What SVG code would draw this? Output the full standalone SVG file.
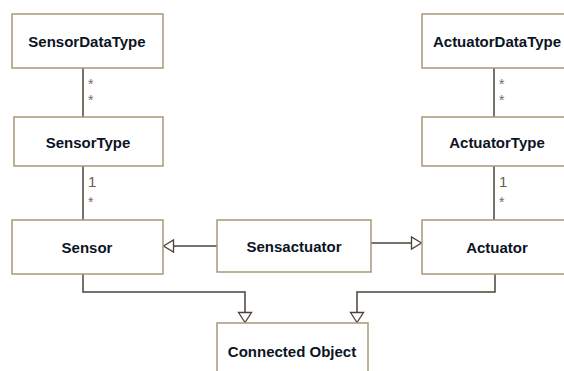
<svg xmlns="http://www.w3.org/2000/svg" width="564" height="371" viewBox="0 0 564 371">
<style>
.box{fill:#fff;stroke:#a89878;stroke-width:1.5}
.lbl{font-family:"Liberation Sans",Arial,sans-serif;font-weight:bold;font-size:15px;fill:#0c1424;text-anchor:middle;dominant-baseline:central}
.mult{font-family:"Liberation Sans",Arial,sans-serif;font-size:14px;fill:#7a6a58}
.one{font-family:"Liberation Sans",Arial,sans-serif;font-size:15px;fill:#6a6050}
.ln{fill:none;stroke:#4a4338;stroke-width:1.5}
.tri{fill:#fff;stroke:#4a4338;stroke-width:1.3}
</style>
<rect width="564" height="371" fill="#fff"/>
<g id="connectors">
<line class="ln" x1="83" y1="68" x2="83" y2="117"/>
<line class="ln" x1="83" y1="166" x2="83" y2="220"/>
<line class="ln" x1="494" y1="68" x2="494" y2="117"/>
<line class="ln" x1="494" y1="166" x2="494" y2="220"/>
<line class="ln" x1="217" y1="246" x2="173" y2="246"/>
<polygon class="tri" points="163.5,246 173.5,240 173.5,252"/>
<line class="ln" x1="371" y1="243" x2="412" y2="243"/>
<polygon class="tri" points="421.5,243 411.5,237 411.5,249"/>
<polyline class="ln" points="83,274 83,292 245,292 245,313"/>
<polygon class="tri" points="245,322.5 238.5,312.5 251.5,312.5"/>
<polyline class="ln" points="495,274 495,292 357,292 357,313"/>
<polygon class="tri" points="357,322.5 350.5,312.5 363.5,312.5"/>
<text class="mult" x="88" y="89">*</text>
<text class="mult" x="88" y="105">*</text>
<text class="mult" x="499" y="89">*</text>
<text class="mult" x="499" y="105">*</text>
<text class="one" x="88" y="187">1</text>
<text class="mult" x="88" y="207">*</text>
<text class="one" x="499" y="187">1</text>
<text class="mult" x="499" y="207">*</text>
</g>
<g id="SensorDataType"><rect class="box" x="12" y="14" width="151" height="54"/><text class="lbl" x="87" y="41">SensorDataType</text></g>
<g id="SensorType"><rect class="box" x="14" y="117" width="149" height="49"/><text class="lbl" x="88" y="142">SensorType</text></g>
<g id="Sensor"><rect class="box" x="12" y="220" width="151" height="54"/><text class="lbl" x="87" y="247">Sensor</text></g>
<g id="Sensactuator"><rect class="box" x="217" y="220" width="154" height="52"/><text class="lbl" x="294" y="246">Sensactuator</text></g>
<g id="Actuator"><rect class="box" x="422" y="220" width="150" height="54"/><text class="lbl" x="497" y="247">Actuator</text></g>
<g id="ActuatorType"><rect class="box" x="422" y="117" width="150" height="49"/><text class="lbl" x="497" y="142">ActuatorType</text></g>
<g id="ActuatorDataType"><rect class="box" x="422" y="14" width="150" height="54"/><text class="lbl" x="497" y="41">ActuatorDataType</text></g>
<g id="ConnectedObject"><rect class="box" x="217" y="323" width="151" height="60"/><text class="lbl" x="292" y="351">Connected Object</text></g>
</svg>
